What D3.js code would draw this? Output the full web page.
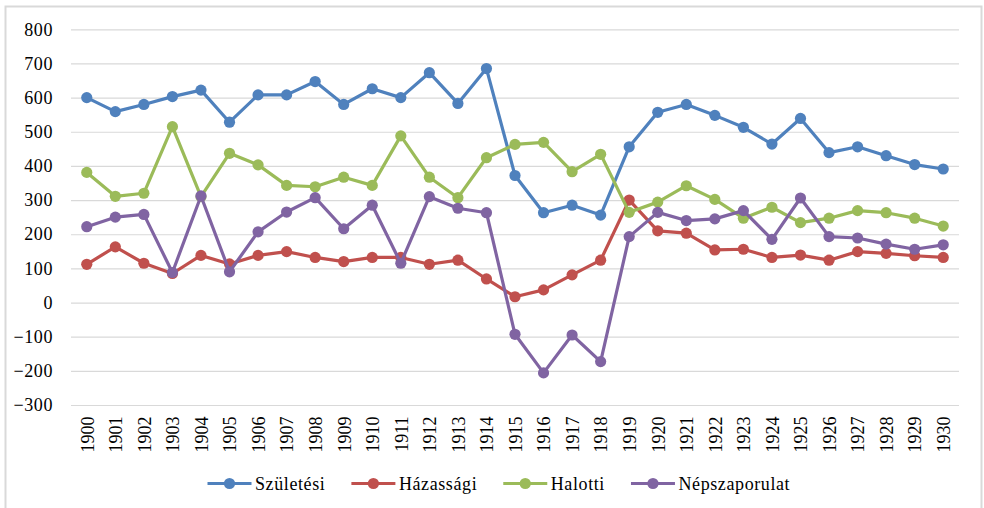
<!DOCTYPE html>
<html>
<head>
<meta charset="utf-8">
<script src="https://cdn.jsdelivr.net/npm/d3@7"></script>
<style>
  body { margin: 0; background: #fff; }
</style>
</head>
<body>
<script>
const years = ["1900", "1901", "1902", "1903", "1904", "1905", "1906", "1907", "1908", "1909",
  "1910", "1911", "1912", "1913", "1914", "1915", "1916", "1917", "1918", "1919",
  "1920", "1921", "1922", "1923", "1924", "1925", "1926", "1927", "1928", "1929", "1930"]

const szuletesi = [600, 559, 580, 603, 622, 528, 608, 608, 647, 580, 626, 600, 673, 583, 685,
  372, 263, 285, 256, 456, 557, 580, 548, 513, 464, 539, 439, 456, 430, 404, 391]
const hazassagi = [112, 163, 115, 85, 138, 113, 138, 149, 132, 120, 132, 132, 112, 124, 69,
  17, 37, 81, 124, 300, 210, 203, 154, 156, 132, 139, 124, 149, 144, 137, 132]
const halotti = [381, 311, 320, 515, 310, 437, 403, 343, 339, 367, 343, 488, 367, 307, 424,
  463, 469, 383, 434, 264, 294, 342, 302, 247, 279, 234, 247, 269, 263, 247, 224]
const nepszaporulat = [222, 250, 258, 88, 312, 90, 207, 265, 307, 216, 285, 115, 310, 276, 263,
  -93, -206, -95, -173, 193, 264, 240, 245, 269, 185, 306, 193, 189, 171, 156, 169]

const seriesNames = ["Születési", "Házassági", "Halotti", "Népszaporulat"]
const yTicks = [-300, -200, -100, 0, 100, 200, 300, 400, 500, 600, 700, 800]

const series = [
  { name: seriesNames[0], values: szuletesi, color: "#4f81bd" },
  { name: seriesNames[1], values: hazassagi, color: "#c0504d" },
  { name: seriesNames[2], values: halotti, color: "#9bbb59" },
  { name: seriesNames[3], values: nepszaporulat, color: "#8064a2" }
]

const font = '"Liberation Serif"'
const dims = { w: 984, h: 508, pl: 71, pr: 959, pt: 29.3, pb: 405 }

const svg = d3.select("body")
  .append("svg")
  .attr("width", dims.w)
  .attr("height", dims.h)
  .style("font-family", font)

// chart frame
svg.append("rect")
  .attr("x", 5.5)
  .attr("y", 6.5)
  .attr("width", 976)
  .attr("height", 510)
  .attr("fill", "none")
  .attr("stroke", "#d9d9d9")
  .attr("stroke-width", 2)

const xScale = d3.scalePoint()
  .domain(years)
  .range([dims.pl + 1.5, dims.pr - 1.5])
  .padding(0.5)

const yScale = d3.scaleLinear()
  .domain([-300, 800])
  .range([dims.pb, dims.pt])

const yAxis = d3.axisLeft(yScale)
  .tickValues(yTicks)
  .tickSize(-(dims.pr - dims.pl))
  .tickPadding(18)

const gy = svg.append("g")
  .attr("transform", `translate(${dims.pl}, 0)`)
  .call(yAxis)
  .attr("font-family", null)
gy.select(".domain").remove()
gy.selectAll(".tick line").attr("stroke", "#d9d9d9").attr("stroke-width", 1.2)
gy.selectAll(".tick text")
  .style("font-family", font)
  .style("font-size", "18px")
  .style("letter-spacing", "0.6px")
  .attr("fill", "#000")

const xAxis = d3.axisBottom(xScale).tickSize(0)
const gx = svg.append("g")
  .attr("transform", `translate(0, ${dims.pb})`)
  .call(xAxis)
  .attr("font-family", null)
gx.select(".domain").remove()
gx.selectAll(".tick text")
  .style("font-family", font)
  .style("font-size", "18px")
  .attr("fill", "#000")
  .attr("text-anchor", "end")
  .attr("transform", "rotate(-90)")
  .attr("x", -11.5)
  .attr("y", 0)
  .attr("dy", "0.35em")

const line = d3.line()
  .x((d, i) => xScale(years[i]))
  .y(d => yScale(d))

series.forEach(s => {
  const g = svg.append("g")
  g.append("path")
    .datum(s.values)
    .attr("d", line)
    .attr("fill", "none")
    .attr("stroke", s.color)
    .attr("stroke-width", 3.2)
    .attr("stroke-linejoin", "round")
  g.selectAll("circle")
    .data(s.values)
    .enter()
    .append("circle")
    .attr("cx", (d, i) => xScale(years[i]))
    .attr("cy", d => yScale(d))
    .attr("r", 5.6)
    .attr("fill", s.color)
})

// legend
const legend = svg.append("g")
  .attr("transform", "translate(207.5, 483.5)")

let lx = 0
series.forEach(s => {
  const item = legend.append("g").attr("transform", `translate(${lx}, 0)`)
  item.append("line")
    .attr("x1", 0).attr("x2", 44)
    .attr("stroke", s.color).attr("stroke-width", 3.2)
  item.append("circle")
    .attr("cx", 22).attr("r", 5.6)
    .attr("fill", s.color)
  const t = item.append("text")
    .attr("x", 47.5)
    .attr("dy", "0.35em")
    .style("font-family", font)
    .style("font-size", "18px")
    .style("letter-spacing", "0.6px")
    .attr("fill", "#000")
    .text(s.name)
  lx += 47.5 + t.node().getComputedTextLength() + 26
})
</script>
</body>
</html>
